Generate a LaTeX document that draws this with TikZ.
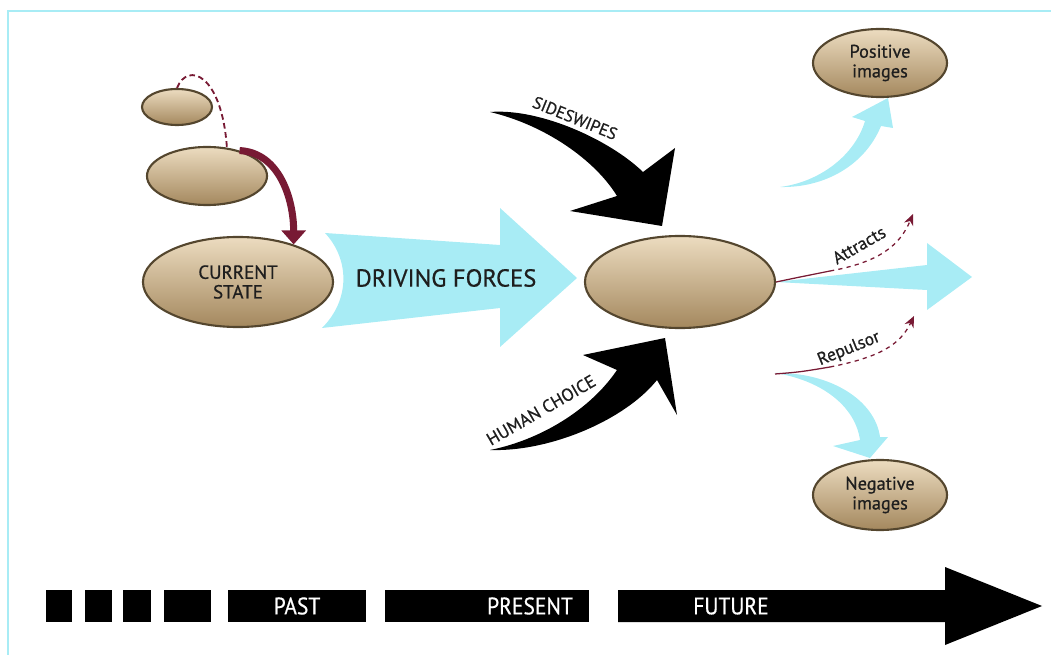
\documentclass[tikz,border=0pt]{standalone}
\usepackage{fontspec}
\setmainfont[FakeBold=0.7]{PT Sans}
\newfontfamily\narrowfont[FakeStretch=0.9,FakeBold=0.5]{PT Sans}
\usetikzlibrary{arrows.meta, shapes.geometric}
\definecolor{sky}{RGB}{168,236,245}
\definecolor{wine}{RGB}{120,26,52}
\definecolor{tanlight}{RGB}{236,220,192}
\definecolor{tandark}{RGB}{164,136,94}
\definecolor{tanedge}{RGB}{84,70,46}
\definecolor{ink}{RGB}{30,30,30}

\begin{document}
\begin{tikzpicture}[
  x=0.025cm, y=-0.025cm,
  blob/.style={ellipse, draw=tanedge, line width=1.5pt, top color=tanlight,
    bottom color=tandark, inner sep=0pt, align=center, text=ink,
    font=\fontsize{13}{14}\selectfont},
  tbox/.style={rectangle, fill=black, inner sep=0pt, minimum height=0.8cm,
    text=white, font=\narrowfont\fontsize{17}{18}\selectfont},
  force/.style={fill=black},
  flow/.style={fill=sky},
  pull/.style={draw=wine, line width=0.9pt},
  lbl/.style={text=ink, inner sep=0pt},
  ]
  \useasboundingbox (0,0) rectangle (1051,655);
  \draw[sky, line width=1.8pt] (8,655) -- (8,11) -- (1051,11);

  % states
  \node[blob, minimum width=1.75cm, minimum height=0.9cm]  (past2) at (177,107) {};
  \node[blob, minimum width=3cm, minimum height=1.45cm]    (past1) at (207,176) {};
  \node[blob, minimum width=4.75cm, minimum height=2.25cm,
    font=\fontsize{13.5}{14}\selectfont]                   (now)   at (238,282) {CURRENT\\STATE};
  \node[blob, minimum width=4.75cm, minimum height=2.3cm]  (next)  at (680,282) {};
  \node[blob, minimum width=3.35cm, minimum height=1.7cm]  (pos)   at (880,63)  {Positive\\images};
  \node[blob, minimum width=3.35cm, minimum height=1.75cm] (neg)   at (880,495) {Negative\\images};

  \draw[wine, line width=1.3pt, dash pattern=on 4pt off 2.5pt]
    (past2.north) .. controls +(11,-27) and +(-5,-73) .. (past1.55);
  \draw[wine, line width=5pt, -{Triangle[length=10pt,width=17pt]}]
    (past1.38) .. controls +(40,2) and +(0,-45) .. (now.34);

  % driving forces
  \fill[flow] (325,233) -- (500,245) -- (500,208) -- (577,278) -- (500,347)
    -- (500,308) -- (322,328) .. controls (350,300) and (350,260) .. (325,233) -- cycle;
  \node[lbl, font=\fontsize{17.5}{19}\selectfont] (drive) at (446,278) {DRIVING FORCES};

  \fill[force] (490,112) .. controls (540,108) and (610,140) .. (643,172) -- (675,148)
    -- (662,226) -- (570,211) -- (617,196) .. controls (595,160) and (545,125) .. (490,112) -- cycle;
  \node[lbl, font=\fontsize{12}{13}\selectfont, rotate=-22] (side) at (575,118) {SIDESWIPES};

  \fill[force] (490,450) .. controls (550,452) and (625,420) .. (657,380) -- (677,415)
    -- (665,338) -- (583,355) -- (617,370) .. controls (590,410) and (540,440) .. (490,450) -- cycle;
  \node[lbl, font=\fontsize{12.5}{13}\selectfont, rotate=30] (human) at (541,410) {HUMAN CHOICE};

  % futures
  \fill[flow] (next.east) -- (927,265) -- (927,243) -- (972,277) -- (927,310) -- (927,290) -- cycle;
  \fill[flow] (780,187) .. controls (820,182) and (855,155) .. (865,121) -- (852,117) -- (888,98)
    -- (893,128) -- (881,126) .. controls (865,165) and (825,188) .. (780,187) -- cycle;
  \fill[flow] (775,373) .. controls (830,372) and (875,400) .. (880,437) -- (888,437) -- (870,458)
    -- (833,446) -- (860,440) .. controls (855,405) and (820,380) .. (775,373) -- cycle;

  \coordinate (attmid) at (830,271);
  \coordinate (att)    at (913,214);
  \coordinate (rep0)   at (775,374);
  \coordinate (repmid) at (830,367);
  \coordinate (rep)    at (914,316);
  \draw[pull] (next.east) .. controls (800,277) .. (attmid);
  \draw[pull, dashed, -{Stealth[length=8pt,width=7pt]}]
    (attmid) .. controls (880,262) and (900,245) .. (att);
  \draw[pull] (rep0) .. controls (800,372) .. (repmid);
  \draw[pull, dashed, -{Stealth[length=8pt,width=7pt]}]
    (repmid) .. controls (880,357) and (900,345) .. (rep);
  \node[lbl, font=\fontsize{12.5}{13}\selectfont, rotate=30] (attlbl) at (859,245) {Attracts};
  \node[lbl, font=\fontsize{12.5}{13}\selectfont, rotate=22] (replbl) at (849,349) {Repulsor};

  % time line
  \node[tbox, minimum width=0.65cm]  (b1) at (59,606) {};
  \node[tbox, minimum width=0.675cm] (b2) at (98.5,606) {};
  \node[tbox, minimum width=0.7cm]   (b3) at (137,606) {};
  \node[tbox, minimum width=1.175cm] (b4) at (187.5,606) {};
  \node[tbox, minimum width=3.45cm]  (pastbox) at (297,606) {PAST};
  \node[tbox, minimum width=5.1cm]   (presbox) at (487,606) {};
  \node[tbox, fill=none] (preslbl) at (530,606) {PRESENT};
  \fill (618,590) -- (945,590) -- (945,567) -- (1042,606) -- (945,645) -- (945,622) -- (618,622) -- cycle;
  \node[tbox, fill=none] (futlbl) at (731,606) {FUTURE};
\end{tikzpicture}
\end{document}
